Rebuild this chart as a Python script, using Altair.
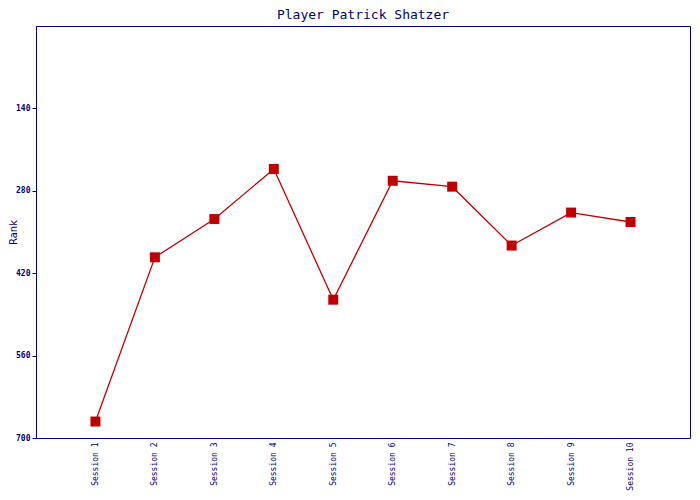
import altair as alt
import pandas as pd

sessions = ["Session 1", "Session 2", "Session 3", "Session 4", "Session 5",
            "Session 6", "Session 7", "Session 8", "Session 9", "Session 10"]
ranks = [672, 393, 328, 243, 465, 263, 273, 373, 317, 333]
rank_ticks = [140, 280, 420, 560, 700]

df = pd.DataFrame({"session": sessions, "rank": ranks})

navy = "#000080"
red = "#c00000"
mono = "DejaVu Sans Mono"

x = alt.X("session:N", sort=sessions, title=None,
          scale=alt.Scale(type="point", padding=1),
          axis=alt.Axis(labelAngle=270, labelFont=mono, labelFontSize=8,
                        labelColor=navy, ticks=False, domain=False,
                        labelPadding=4))
y = alt.Y("rank:Q", title="Rank",
          scale=alt.Scale(domain=[0, 700], reverse=True, nice=False),
          axis=alt.Axis(values=rank_ticks, grid=False, labelFont=mono,
                        labelFontSize=8, labelFontWeight="bold",
                        labelColor=navy, tickColor=navy, tickSize=4,
                        labelPadding=2,
                        domainColor=navy, titleColor=navy,
                        titleFont="DejaVu Sans", titleFontSize=10,
                        titleFontWeight="normal", titleX=-18, titleY=206))

base = alt.Chart(df).encode(x=x, y=y)
line = base.mark_line(color=red, strokeWidth=1.3)
pts = base.mark_square(color=red, size=100, opacity=1)

chart = (line + pts).properties(
    width=654, height=412,
    title=alt.TitleParams("Player Patrick Shatzer", font=mono, fontSize=13,
                          fontWeight="normal", color=navy, offset=4),
    autosize=alt.AutoSizeParams(type="none"),
    padding={"left": 28, "top": 18, "right": 2, "bottom": 54},
).configure_view(stroke=navy, strokeWidth=1)

chart.save("out.html", embed_options={"renderer": "svg", "actions": False})
